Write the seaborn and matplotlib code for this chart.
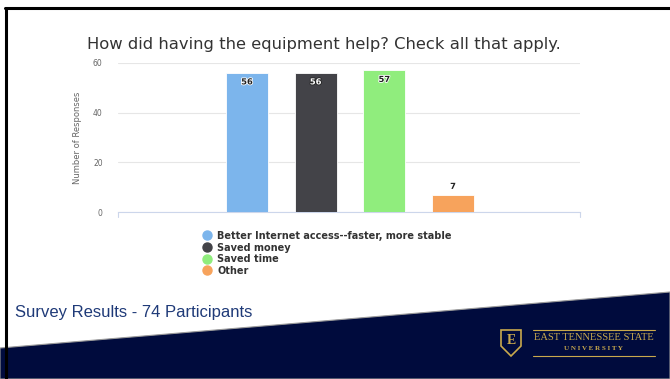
import matplotlib
matplotlib.use("Agg")
import matplotlib.pyplot as plt
import seaborn as sns
import pandas as pd
from matplotlib.lines import Line2D
from matplotlib.patches import Polygon
import matplotlib.patheffects as pe

categories = ["Better Internet access--faster, more stable", "Saved money", "Saved time", "Other"]
values = [56, 56, 57, 7]
colors = ["#7CB5EC", "#434348", "#90ED7D", "#F7A35C"]
yticks = [0, 20, 40, 60]
title = "How did having the equipment help? Check all that apply."
ylabel = "Number of Responses"
footer = "Survey Results - 74 Participants"

sns.set_theme(style="white")
plt.rcParams['font.family'] = ['DejaVu Sans']

W, H = 670, 379
fig = plt.figure(figsize=(W / 100, H / 100), dpi=100)
fig.patch.set_facecolor("white")

def fx(px):
    return px / W

def fy(py):
    return 1 - py / H

# Slide background elements
fig.patches.append(Polygon([[fx(0), fy(348)], [fx(670), fy(292)], [fx(670), fy(379)], [fx(0), fy(379)]],
                           closed=True, transform=fig.transFigure, facecolor="#000B3D", edgecolor="#9a9a9a",
                           linewidth=0.8, zorder=0))
fig.add_artist(Line2D([fx(5), fx(670)], [fy(8), fy(8)], transform=fig.transFigure, color="black", lw=2.2))
fig.add_artist(Line2D([fx(6), fx(6)], [fy(8), fy(379)], transform=fig.transFigure, color="black", lw=2.2))

ax = fig.add_axes([fx(118), fy(212), fx(580) - fx(118), fy(63) - fy(212)])
df = pd.DataFrame({"category": categories, "value": values})
sns.barplot(data=df, x="category", y="value", hue="category", order=categories, hue_order=categories,
            palette=colors, legend=False, width=0.61, dodge=False, ax=ax, saturation=1, zorder=3)
for p in ax.patches:
    p.set_edgecolor("white")
    p.set_linewidth(0.6)

ax.set_xlim(-1.88, 4.85)
ax.set_ylim(0, 60)
ax.set_yticks(yticks)
ax.set_yticklabels([str(t) for t in yticks], fontsize=5.5, color="#666666")
ax.tick_params(axis="y", length=0, pad=11)
ax.set_xticks([])
ax.set_xlabel("")
ax.set_ylabel(ylabel, fontsize=6, color="#666666", family=["Liberation Sans Narrow", "DejaVu Sans"], labelpad=8)
ax.grid(axis="y", color="#e6e6e6", lw=0.8, zorder=0)
for s in ["top", "right", "left"]:
    ax.spines[s].set_visible(False)
ax.spines["bottom"].set_color("#ccd6eb")
ax.spines["bottom"].set_linewidth(0.8)
for xv in [-1.88, 4.85]:
    ax.plot([xv, xv], [0, -2.2], color="#ccd6eb", lw=0.8, clip_on=False)

for i, v in enumerate(values):
    if v > 50:
        y = v - 1.8
        va = "top"
    else:
        y = v + 1.5
        va = "bottom"
    tc = "white" if colors[i] == "#434348" else "#222222"
    sc = "#222222" if colors[i] == "#434348" else "white"
    ax.text(i, y, str(v), ha="center", va=va, fontsize=6, fontweight="bold", color=tc,
            path_effects=[pe.withStroke(linewidth=1.2, foreground=sc)], zorder=5)

fig.text(fx(324), fy(44), title, ha="center", va="center", fontsize=11.8, color="#333333")

handles = [Line2D([], [], marker="o", ls="", markersize=6.5, markerfacecolor=c, markeredgecolor=c) for c in colors]
fig.legend(handles, categories, loc="upper left", bbox_to_anchor=(fx(196), fy(226)), frameon=False,
           prop={"size": 7, "weight": "bold"}, labelcolor="#333333", handletextpad=0.5, labelspacing=0.17,
           borderpad=0, handlelength=1.2)

fig.text(fx(15), fy(313), footer, ha="left", va="center", fontsize=12, color="#1F3A78",
         family=["Liberation Sans", "DejaVu Sans"])

gold = "#C9A94D"
shield = Polygon([[fx(501), fy(330)], [fx(521), fy(330)], [fx(521), fy(346)], [fx(511), fy(356)], [fx(501), fy(346)]],
                 closed=True, transform=fig.transFigure, facecolor="#000B3D", edgecolor=gold, linewidth=1.2)
fig.patches.append(shield)
fig.text(fx(511), fy(341), "E", ha="center", va="center", fontsize=10, fontweight="bold", color=gold,
         family=["Liberation Serif", "DejaVu Serif"])
fig.add_artist(Line2D([fx(533), fx(655)], [fy(330), fy(330)], transform=fig.transFigure, color=gold, lw=0.8))
fig.add_artist(Line2D([fx(533), fx(655)], [fy(356), fy(356)], transform=fig.transFigure, color=gold, lw=0.8))
fig.text(fx(594), fy(338), "EAST TENNESSEE STATE", ha="center", va="center", fontsize=7.5, color=gold,
         family=["Liberation Serif", "DejaVu Serif"])
fig.text(fx(594), fy(349), "U N I V E R S I T Y", ha="center", va="center", fontsize=5, color=gold,
         fontweight="bold", family=["Liberation Serif", "DejaVu Serif"])

fig.savefig("out.png", dpi=100, facecolor=fig.get_facecolor())
